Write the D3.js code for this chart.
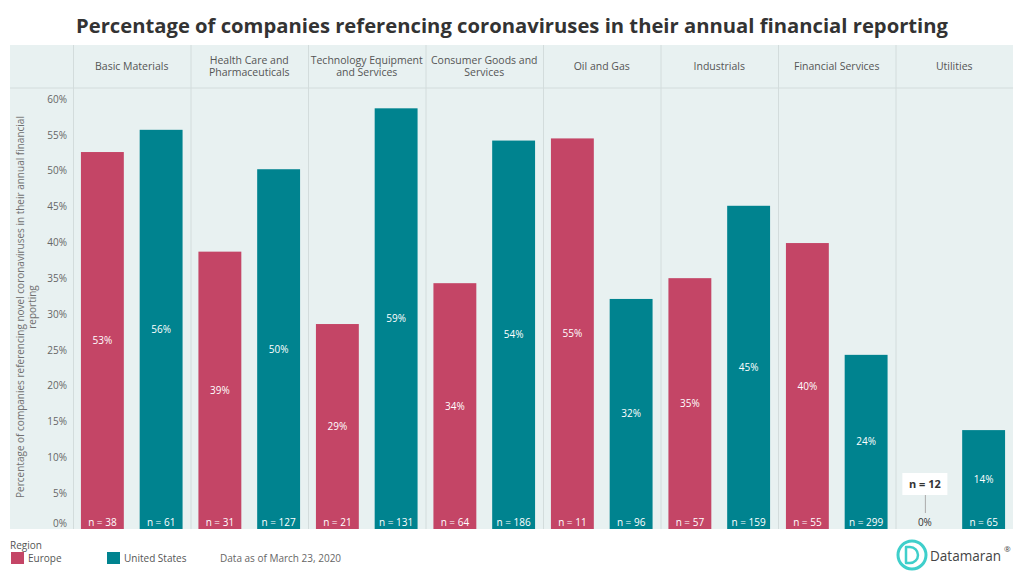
<!DOCTYPE html>
<html>
<head>
<meta charset="utf-8">
<script src="https://cdn.jsdelivr.net/npm/d3@7"></script>
<style>
  html, body { margin: 0; padding: 0; background: #ffffff; }
  svg { display: block; font-family: "Open Sans", "Noto Sans", sans-serif; }
</style>
</head>
<body>
<svg id="chart" width="1024" height="578"></svg>
<script>
// ---- data ----
const categories = ["Basic Materials", "Health Care and Pharmaceuticals", "Technology Equipment and Services",
  "Consumer Goods and Services", "Oil and Gas", "Industrials", "Financial Services", "Utilities"];
const categoryLines = [["Basic Materials"], ["Health Care and", "Pharmaceuticals"], ["Technology Equipment", "and Services"],
  ["Consumer Goods and", "Services"], ["Oil and Gas"], ["Industrials"], ["Financial Services"], ["Utilities"]];
const regions = ["Europe", "United States"];
const europeValues = [52.6, 38.7, 28.6, 34.3, 54.5, 35.0, 39.9, 0];
const usValues = [55.7, 50.2, 58.7, 54.2, 32.1, 45.1, 24.3, 13.8];
const europeN = [38, 31, 21, 64, 11, 57, 55, 12];
const usN = [61, 127, 131, 186, 96, 159, 299, 65];
const yTicks = [0, 5, 10, 15, 20, 25, 30, 35, 40, 45, 50, 55, 60];
const colors = { "Europe": "#C44566", "United States": "#00838F" };

const svg = d3.select("#chart");

// layout
const panel = { x0: 10, x1: 1013, y0: 45, y1: 529, header: 88 };
const plot = { x0: 73, x1: 1013, top: 99, bottom: 529 };

const x = d3.scaleBand().domain(categories).range([plot.x0, plot.x1]).paddingInner(0).paddingOuter(0);
const xr = d3.scaleBand().domain(regions).range([0, x.bandwidth()]).paddingInner(0.27).paddingOuter(0.135);
const y = d3.scaleLinear().domain([0, 60]).range([plot.bottom, plot.top]);

// rows
const rows = [];
categories.forEach((c, i) => {
  rows.push({ cat: c, region: "Europe", v: europeValues[i], n: europeN[i] });
  rows.push({ cat: c, region: "United States", v: usValues[i], n: usN[i] });
});

// title
svg.append("text")
  .attr("x", 512).attr("y", 33)
  .attr("text-anchor", "middle")
  .attr("font-size", 20).attr("font-weight", 700)
  .attr("fill", "#333")
  .attr("textLength", 872).attr("lengthAdjust", "spacingAndGlyphs")
  .text("Percentage of companies referencing coronaviruses in their annual financial reporting");

// panel background
svg.append("rect")
  .attr("x", panel.x0).attr("y", panel.y0)
  .attr("width", panel.x1 - panel.x0).attr("height", panel.y1 - panel.y0)
  .attr("fill", "#E8F1F1");

// header divider
svg.append("line")
  .attr("x1", panel.x0).attr("x2", panel.x1)
  .attr("y1", panel.header).attr("y2", panel.header)
  .attr("stroke", "#D3DCDC").attr("stroke-width", 1);

// column separators
const seps = [plot.x0].concat(categories.slice(1).map(c => x(c)));
svg.append("g").selectAll("line").data(seps).join("line")
  .attr("x1", d => d + 0.5).attr("x2", d => d + 0.5)
  .attr("y1", panel.y0).attr("y2", panel.y1)
  .attr("stroke", "#D3DCDC").attr("stroke-width", 1);

// category headers
const hdr = svg.append("g");
categories.forEach((c, i) => {
  const lines = categoryLines[i];
  const cx = x(c) + x.bandwidth() / 2;
  const startY = lines.length === 1 ? 70 : 64;
  lines.forEach((ln, j) => {
    hdr.append("text")
      .attr("x", cx).attr("y", startY + j * 12)
      .attr("text-anchor", "middle")
      .attr("font-size", 10.5).attr("fill", "#555")
      .text(ln);
  });
});

// y axis
const yAxis = d3.axisLeft(y).tickValues(yTicks).tickSize(0).tickPadding(6).tickFormat(d => d + "%");
const yg = svg.append("g").attr("transform", `translate(${plot.x0},0)`).call(yAxis);
yg.select(".domain").remove();
yg.selectAll("text").attr("font-size", 10).attr("fill", "#666").attr("font-family", "\"Open Sans\", sans-serif");
yg.selectAll(".tick").filter(d => d === 0).select("text").attr("dy", "-0.3em");

// y axis title
const yt = svg.append("text")
  .attr("transform", "translate(24,307) rotate(-90)")
  .attr("text-anchor", "middle")
  .attr("font-size", 10).attr("fill", "#707070");
yt.append("tspan").attr("x", 0).attr("dy", 0).text("Percentage of companies referencing novel coronaviruses in their annual financial");
yt.append("tspan").attr("x", 0).attr("dy", 12).text("reporting");

// bars
const barG = svg.append("g");
barG.selectAll("rect").data(rows).join("rect")
  .attr("x", d => x(d.cat) + xr(d.region))
  .attr("width", xr.bandwidth())
  .attr("y", d => y(d.v))
  .attr("height", d => y(0) - y(d.v))
  .attr("fill", d => colors[d.region]);

// value labels
barG.selectAll("text.val").data(rows.filter(d => d.v > 0)).join("text")
  .attr("class", "val")
  .attr("x", d => x(d.cat) + xr(d.region) + xr.bandwidth() / 2)
  .attr("y", d => (y(d.v) + y(0)) / 2)
  .attr("dy", "0.35em")
  .attr("text-anchor", "middle")
  .attr("font-size", 10).attr("fill", "#ffffff")
  .text(d => Math.round(d.v) + "%");

// n labels
barG.selectAll("text.n").data(rows.filter(d => d.v > 0)).join("text")
  .attr("class", "n")
  .attr("x", d => x(d.cat) + xr(d.region) + xr.bandwidth() / 2)
  .attr("y", y(0) - 7)
  .attr("dy", "0.35em")
  .attr("text-anchor", "middle")
  .attr("font-size", 10).attr("fill", "#ffffff")
  .text(d => "n = " + d.n);

// zero-valued bars: annotation
const zeroRows = rows.filter(d => d.v === 0);
zeroRows.forEach(d => {
  const cx = x(d.cat) + xr(d.region) + xr.bandwidth() / 2;
  svg.append("text")
    .attr("x", cx).attr("y", y(0) - 7).attr("dy", "0.35em")
    .attr("text-anchor", "middle")
    .attr("font-size", 10).attr("fill", "#333")
    .text(Math.round(d.v) + "%");
  svg.append("line")
    .attr("x1", cx + 0.5).attr("x2", cx + 0.5)
    .attr("y1", y(0) - 34).attr("y2", y(0) - 16)
    .attr("stroke", "#AAAAAA").attr("stroke-width", 1);
  svg.append("rect")
    .attr("x", cx - 22.5).attr("y", y(0) - 56)
    .attr("width", 45).attr("height", 22)
    .attr("fill", "#ffffff");
  svg.append("text")
    .attr("x", cx).attr("y", y(0) - 45).attr("dy", "0.35em")
    .attr("text-anchor", "middle")
    .attr("font-size", 11).attr("font-weight", 700).attr("fill", "#333")
    .text("n = " + d.n);
});

// legend
svg.append("text").attr("x", 10).attr("y", 549)
  .attr("font-size", 10).attr("fill", "#555").text("Region");
const legendX = [11, 107];
regions.forEach((r, i) => {
  svg.append("rect").attr("x", legendX[i]).attr("y", 552).attr("width", 13).attr("height", 12)
    .attr("fill", colors[r]);
  svg.append("text").attr("x", legendX[i] + 17).attr("y", 562)
    .attr("font-size", 10).attr("fill", "#555").text(r);
});
svg.append("text").attr("x", 220).attr("y", 562)
  .attr("font-size", 10).attr("fill", "#666").text("Data as of March 23, 2020");

// logo
const logo = svg.append("g").attr("transform", "translate(912,555)");
logo.append("circle").attr("r", 14).attr("fill", "none").attr("stroke", "#3FCFCB").attr("stroke-width", 3);
logo.append("path")
  .attr("d", "M-6,-8 L-2,-8 A8,8 0 0 1 -2,8 L-6,8 Z")
  .attr("fill", "none").attr("stroke", "#3FCFCB").attr("stroke-width", 2.5).attr("stroke-linejoin", "round");
svg.append("text").attr("x", 930).attr("y", 561)
  .attr("font-size", 14).attr("fill", "#444")
  .attr("textLength", 71).attr("lengthAdjust", "spacingAndGlyphs")
  .text("Datamaran");
svg.append("text").attr("x", 1004).attr("y", 552)
  .attr("font-size", 8).attr("fill", "#444").text("®");
</script>
</body>
</html>
